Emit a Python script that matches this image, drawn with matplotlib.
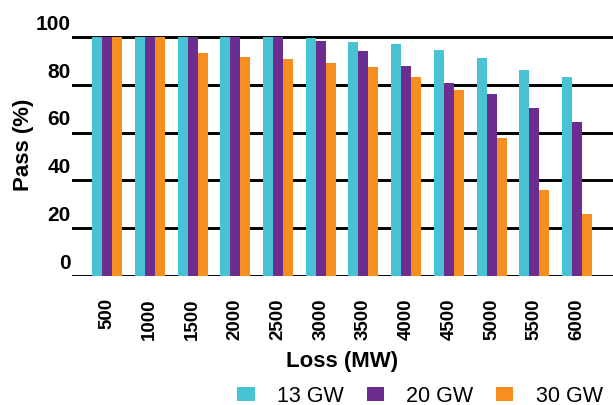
import matplotlib
matplotlib.use("Agg")
import matplotlib.pyplot as plt
from matplotlib.transforms import ScaledTranslation
import numpy as np

categories = ["500", "1000", "1500", "2000", "2500", "3000", "3500",
              "4000", "4500", "5000", "5500", "6000"]
gw13 = [100, 100, 100, 100, 100, 99.5, 98.0, 96.9, 94.7, 91.4, 86.3, 83.3]
gw20 = [100, 100, 100, 100, 100, 98.5, 94.3, 87.9, 80.9, 76.0, 70.3, 64.4]
gw30 = [100, 100, 93.2, 91.5, 90.9, 89.3, 87.4, 83.3, 77.8, 57.7, 36.1, 25.9]
series_names = ["13 GW", "20 GW", "30 GW"]
colors = ["#47C3D3", "#6B2D8F", "#F68F1F"]
yticks = [0, 20, 40, 60, 80, 100]

plt.rcParams['font.family'] = ['Liberation Sans', 'DejaVu Sans']

fig = plt.figure(figsize=(6.13, 4.05), dpi=100)
W, H = 613, 405
left, right, top, bottom = 72, 613, 35.1, 276
ax = fig.add_axes([left / W, 1 - bottom / H, (right - left) / W, (bottom - top) / H])

x = np.arange(len(categories))
w = 0.234
for k, (vals, name, c) in enumerate(zip([gw13, gw20, gw30], series_names, colors)):
    ax.bar(x + (k - 1) * w, vals, width=w, color=c, label=name, zorder=3)

ax.set_xlim(-0.82, 11.84)
ax.set_ylim(0, 100.8)
ax.set_yticks(yticks)
ax.set_yticklabels([str(v) for v in yticks], fontsize=15, fontweight='bold')
ax.set_xticks(x)
ax.set_xticklabels(categories, rotation=90, fontsize=13.5, fontweight='bold')
ax.tick_params(axis='both', length=0)
ax.tick_params(axis='y', pad=1)
ax.tick_params(axis='x', pad=16)

offset = ScaledTranslation(0, 0.148, fig.dpi_scale_trans)
for lab in ax.get_yticklabels():
    lab.set_transform(lab.get_transform() + offset)

ax.yaxis.grid(True, color='black', linewidth=2.1)
ax.set_axisbelow(True)
for s in ax.spines.values():
    s.set_visible(False)

ax.set_ylabel("Pass (%)", fontsize=16, fontweight='bold')
ax.yaxis.set_label_coords(-0.0702, 0.543)
ax.set_xlabel("Loss (MW)", fontsize=16, fontweight='bold', va='top')
ax.xaxis.set_label_coords(0.5, -0.312)

fig.legend(loc='center right', bbox_to_anchor=(603 / W, 1 - 396 / H), ncol=3,
           frameon=False, fontsize=15.5, handlelength=0.8, handleheight=0.62,
           handletextpad=1.05, columnspacing=1.05, borderpad=0, borderaxespad=0)

fig.savefig("out.png", dpi=100)
